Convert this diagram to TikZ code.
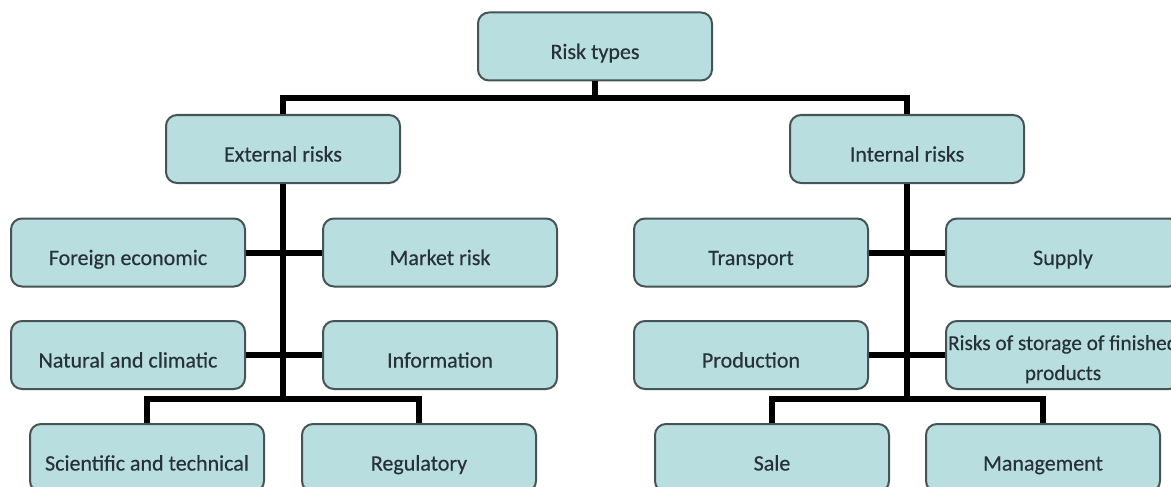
\documentclass[tikz,border=0pt]{standalone}
\usepackage{fontspec}
\setmainfont{Carlito}[FakeBold=0.4]
\definecolor{boxfill}{RGB}{185,222,224}
\definecolor{boxline}{RGB}{70,84,86}
\definecolor{boxtext}{RGB}{38,50,54}
\tikzset{
  boxfont/.style={text=boxtext, font=\fontsize{22}{30}\selectfont},
  riskbox/.style={draw=boxline, fill=boxfill, line width=2pt, rounded corners=11pt,
    minimum width=234pt, minimum height=68pt, inner sep=1pt, align=center,
    boxfont, text height=26pt, text depth=1pt},
  link/.style={line width=6pt, draw=black, line join=miter}
}
\begin{document}
\begin{tikzpicture}[x=1pt,y=-1pt]
\useasboundingbox (0,0) rectangle (1171,487);
\clip (0,0) rectangle (1171,487);
\fill[white] (0,0) rectangle (1171,487);
% boxes
\node[riskbox] (rt)  at (595,46.5) {Risk types};
\node[riskbox] (ext) at (283,149) {External risks};
\node[riskbox] (int) at (907,149) {Internal risks};
\node[riskbox] (fe)  at (128,252.5) {Foreign economic};
\node[riskbox] (mr)  at (440,252.5) {Market risk};
\node[riskbox] (nc)  at (128,355) {Natural and climatic};
\node[riskbox] (inf) at (440,355) {Information};
\node[riskbox] (st)  at (147,458) {Scientific and technical};
\node[riskbox] (reg) at (419,458) {Regulatory};
\node[riskbox] (tr)  at (751,252.5) {Transport};
\node[riskbox] (sup) at (1063,252.5) {Supply};
\node[riskbox] (pr)  at (751,355) {Production};
\node[riskbox] (rs)  at (1063,355) {};
\node[text=boxtext, font=\fontsize{21.3}{30}\selectfont, align=center, inner sep=0pt, anchor=base] (rstext) at (1063,380)
  {Risks of storage of finished\\products};
\node[riskbox] (sale) at (772,458) {Sale};
\node[riskbox] (mg)  at (1043,458) {Management};
% connectors
\draw[link] (rt.south) -- ++(0,17) -| (ext.north);
\draw[link] (rt.south) -- ++(0,17) -| (int.north);
\draw[link] (ext.south) -- ++(0,215) -| (st.north);
\draw[link] (ext.south) -- ++(0,215) -| (reg.north);
\draw[link] (int.south) -- ++(0,215) -| (sale.north);
\draw[link] (int.south) -- ++(0,215) -| (mg.north);
\draw[link] (fe) -- (mr);
\draw[link] (nc) -- (inf);
\draw[link] (tr) -- (sup);
\draw[link] (pr) -- (rs);
\end{tikzpicture}
\end{document}
